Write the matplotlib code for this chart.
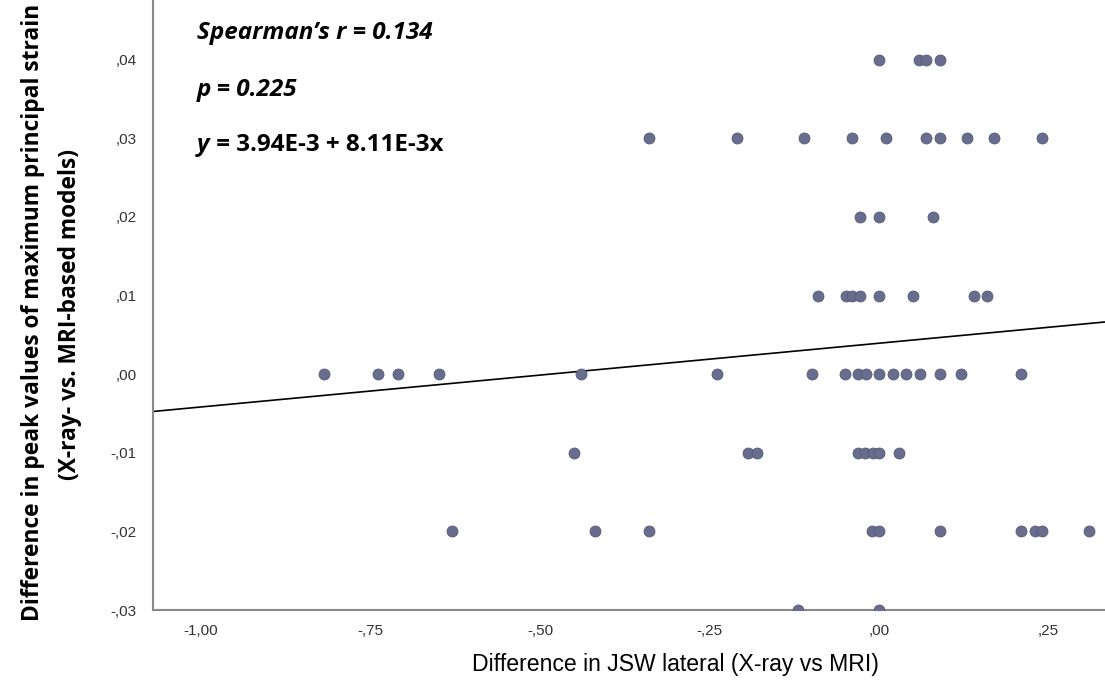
import matplotlib
matplotlib.use("Agg")
import matplotlib.pyplot as plt
import numpy as np

# JSW lateral difference (x) grouped by strain difference level (y)
x_004 = [0.000, 0.059, 0.069, 0.090]
x_003 = [-0.339, -0.209, -0.111, -0.040, 0.010, 0.069, 0.090, 0.130, 0.170, 0.240]
x_002 = [-0.029, 0.000, 0.080]
x_001 = [-0.090, -0.049, -0.040, -0.029, 0.000, 0.050, 0.140, 0.159]
x_000 = [-0.819, -0.739, -0.709, -0.649, -0.440, -0.239, -0.099, -0.050, -0.031,
         -0.019, 0.000, 0.021, 0.040, 0.060, 0.090, 0.121, 0.209]
x_m001 = [-0.450, -0.193, -0.180, -0.031, -0.021, -0.009, 0.000, 0.029]
x_m002 = [-0.630, -0.419, -0.339, -0.010, 0.000, 0.090, 0.209, 0.230, 0.240, 0.310]
x_m003 = [-0.120, 0.000]

groups = [(0.04, x_004), (0.03, x_003), (0.02, x_002), (0.01, x_001),
          (0.00, x_000), (-0.01, x_m001), (-0.02, x_m002), (-0.03, x_m003)]

# fit line reported in the annotation
intercept = 3.94e-3
slope = 8.11e-3

x_ticks = [-1.00, -0.75, -0.50, -0.25, 0.00, 0.25]
x_ticklabels = ["-1,00", "-,75", "-,50", "-,25", ",00", ",25"]
y_ticks = [0.04, 0.03, 0.02, 0.01, 0.00, -0.01, -0.02, -0.03]
y_ticklabels = [",04", ",03", ",02", ",01", ",00", "-,01", "-,02", "-,03"]

xs = np.concatenate([np.array(g[1]) for g in groups])
ys = np.concatenate([np.full(len(g[1]), g[0]) for g in groups])

fig = plt.figure(figsize=(11.05, 6.83), dpi=100)
ax = fig.add_axes([153 / 1105, 73 / 683, 1 - 153 / 1105, 1 - 73 / 683])

xmin, xmax = -1.071, 0.333
ax.set_xlim(xmin, xmax)
ax.set_ylim(-0.03, 0.0476)

ax.scatter(xs, ys, s=62, color="#686d8e", edgecolor="#555a7a", linewidth=0.6, zorder=3)

line_x = np.array([xmin, xmax])
ax.plot(line_x, intercept + slope * line_x, color="black", linewidth=1.2, zorder=2)

for side in ["top", "right"]:
    ax.spines[side].set_visible(False)
for side in ["left", "bottom"]:
    ax.spines[side].set_color("#8a8a8a")
    ax.spines[side].set_linewidth(1.5)

ax.set_xticks(x_ticks)
ax.set_xticklabels(x_ticklabels)
ax.set_yticks(y_ticks)
ax.set_yticklabels(y_ticklabels)
ax.tick_params(axis="both", length=0, labelsize=11, labelcolor="#333333",
               labelfontfamily="Liberation Sans")
ax.tick_params(axis="y", pad=12)
ax.tick_params(axis="x", pad=10)

fig.text(675 / 1105, 1 - 664 / 683, "Difference in JSW lateral (X-ray vs MRI)",
         ha="center", va="center", fontsize=16.6, family="Liberation Sans", color="black")

fig.text(33 / 1105, 1 - 312 / 683, "Difference in peak values of maximum principal strain",
         rotation=90, ha="center", va="center", fontsize=16.4, fontweight="bold", family="Open Sans")
fig.text(70 / 1105, 1 - 314 / 683, "(X-ray- vs. MRI-based models)",
         rotation=90, ha="center", va="center", fontsize=16.4, fontweight="bold", family="Open Sans")

# statistics box text
ann = dict(fontsize=17.5, fontweight="bold", family="Open Sans", va="center", ha="left")
fig.text(197 / 1105, 1 - 33 / 683, "Spearman\u2019s r = 0.134", style="italic", **ann)
fig.text(197 / 1105, 1 - 90 / 683, "p = 0.225", style="italic", **ann)
t = fig.text(197 / 1105, 1 - 145 / 683, "y", style="italic", **ann)
ax.annotate(" = 3.94E-3 + 8.11E-3x", xy=(1, 0), xycoords=t, va="bottom", ha="left",
            fontsize=17.5, fontweight="bold", family="Open Sans")

fig.savefig("out.png", dpi=100, facecolor="white")
